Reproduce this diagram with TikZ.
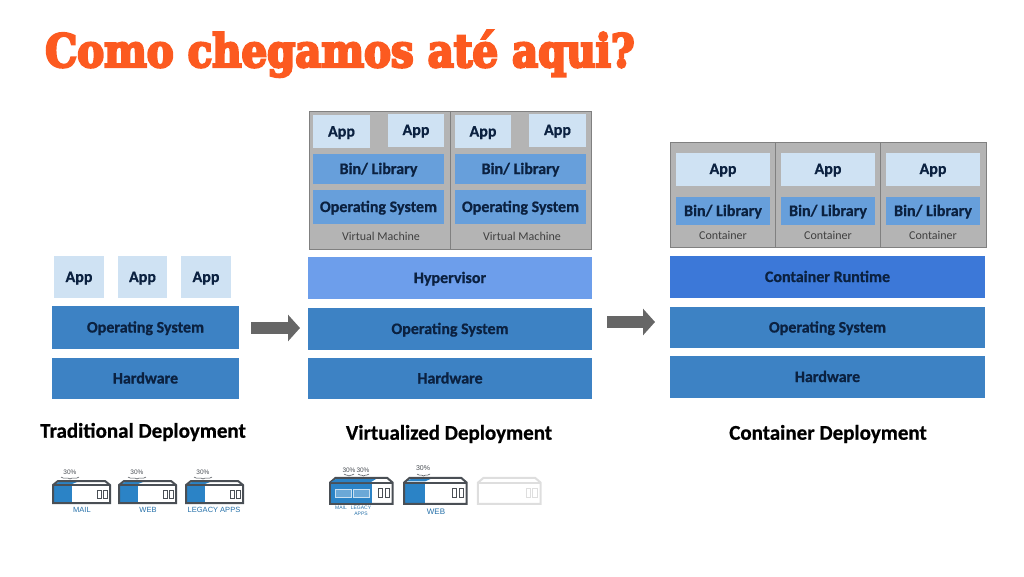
\documentclass[tikz,border=0pt]{standalone}
\usepackage{fontspec}
\setmainfont[BoldFeatures={FakeBold=0.7}]{Carlito}
\newfontfamily\titlefont[BoldFeatures={FakeBold=5,FakeStretch=0.88}]{DejaVu Serif}
\newfontfamily\iconfont{Liberation Sans}
\usetikzlibrary{arrows.meta,positioning,decorations.pathreplacing}
\definecolor{osblue}{HTML}{3D82C4}
\definecolor{binblue}{HTML}{679FDB}
\definecolor{appblue}{HTML}{CFE2F3}
\definecolor{hypblue}{HTML}{6D9EEB}
\definecolor{runblue}{HTML}{3C78D8}
\definecolor{vmgray}{HTML}{B4B4B4}
\definecolor{inktext}{HTML}{0B2140}
\definecolor{titlered}{HTML}{FC5A20}
\definecolor{icongray}{HTML}{4A4F55}
\definecolor{iconblue}{HTML}{2B83C6}
\definecolor{ghostgray}{HTML}{DEDEDE}
\tikzset{
pics/server/.style n args={2}{code={
\fill[#2] (1,-2) rectangle (19,14);
\fill[#2] (6,-6) -- (24,-6) -- (19,-4) -- (1,-4) -- cycle;
\draw[line width=2pt,#1] (0,-3) -- (5,-7) -- (52,-7) -- (57,-3) -- (57,15) -- (0,15) -- cycle;
\draw[line width=2pt,#1] (0,-3) -- (57,-3);
\draw[line width=1pt,#1] (44,2) rectangle (48,10) (50,2) rectangle (54,10);
}}}
\begin{document}
\begin{tikzpicture}[x=1pt,y=-1pt,
layer/.style={minimum width=#1,minimum height=42pt,inner sep=0pt,text height=10pt,text depth=0pt,text=inktext,font=\bfseries\fontsize{16}{16}\selectfont},
osbox/.style={layer=#1,fill=osblue},
appbox/.style={layer=#1,fill=appblue,minimum height=33pt},
binbox/.style={layer=#1,fill=binblue,minimum height=30pt},
vmbox/.style={draw=black!50,fill=vmgray,line width=.6pt,minimum width=#1,inner sep=0pt},
tag/.style={text=black!75,font=\fontsize{12}{12}\selectfont,inner sep=0pt},
caption/.style={text=black,font=\bfseries\fontsize{21}{21}\selectfont,inner sep=0pt},
percent/.style={text=icongray,font=\iconfont\fontsize{6.5}{6.5}\selectfont,inner sep=0pt},
svcname/.style={text=iconblue!85!black,font=\iconfont\fontsize{7.5}{7.5}\selectfont,inner sep=0pt,align=center},
bracemark/.style={draw=icongray,line width=.5pt,decorate,decoration={brace,amplitude=2pt,mirror}},
bigarr/.style={-{Triangle[length=12pt,width=26pt]},line width=12pt,draw=black!60}]
\useasboundingbox (0,0) rectangle (1024,576);
% title
\node[anchor=base west,text=titlered,inner sep=0pt,font=\titlefont\bfseries\fontsize{45.8}{46}\selectfont] (title) at (45,67) {Como chegamos até aqui?};
% traditional
\node[appbox=50pt,minimum height=42pt] (app1) at (79,277) {App};
\node[appbox=49pt,minimum height=42pt] (app2) at (142.5,277) {App};
\node[appbox=50pt,minimum height=42pt] (app3) at (206,277) {App};
\node[osbox=187pt,minimum height=43pt] (os1) at (145.5,327.5) {Operating System};
\node[osbox=187pt,minimum height=41pt] (hw1) at (145.5,378.5) {Hardware};
\node[caption] (cap1) at (143,432) {Traditional Deployment};
% virtualized
\node[vmbox=141.5pt,minimum height=138pt] (vm1) at (380,180) {};
\node[vmbox=141.5pt,minimum height=138pt] (vm2) at (521,180) {};
\node[appbox=57pt] (va1) at (341.5,131.5) {App};
\node[appbox=56pt] (va2) at (416,130) {App};
\node[appbox=56pt] (va3) at (483,131.5) {App};
\node[appbox=57pt] (va4) at (557.5,130) {App};
\node[binbox=131pt] (vb1) at (378.5,169) {Bin/ Library};
\node[binbox=131pt] (vb2) at (520.5,169) {Bin/ Library};
\node[binbox=131pt,minimum height=34pt] (vo1) at (378.5,207) {Operating System};
\node[binbox=131pt,minimum height=34pt] (vo2) at (520.5,207) {Operating System};
\node[tag] (vt1) at (381,236) {Virtual Machine};
\node[tag] (vt2) at (522,236) {Virtual Machine};
\node[layer=284pt,fill=hypblue] (hyp) at (450,278) {Hypervisor};
\node[osbox=284pt] (os2) at (450,329) {Operating System};
\node[osbox=284pt,minimum height=41pt] (hw2) at (450,378.5) {Hardware};
\node[caption] (cap2) at (449,434) {Virtualized Deployment};
% container
\node[vmbox=105.5pt,minimum height=105pt] (ct1) at (722.7,194.5) {};
\node[vmbox=105.5pt,minimum height=105pt] (ct2) at (828.2,194.5) {};
\node[vmbox=105.5pt,minimum height=105pt] (ct3) at (933.5,194.5) {};
\foreach \cx/\cn in {723/1,828/2,933/3}{
\node[appbox=94pt] (ca\cn) at (\cx,169) {App};
\node[binbox=94pt,minimum height=28pt] (cb\cn) at (\cx,211) {Bin/ Library};
\node[tag] (ct\cn l) at (\cx,235.5) {Container};
}
\node[layer=315pt,fill=runblue] (run) at (827.5,277) {Container Runtime};
\node[osbox=315pt,minimum height=41pt] (os3) at (827.5,327.5) {Operating System};
\node[osbox=315pt] (hw3) at (827.5,377) {Hardware};
\node[caption] (cap3) at (828,434) {Container Deployment};
% arrows
\coordinate (a1s) at (251,328);
\coordinate (a1e) at (300,328);
\coordinate (a2s) at (607,322);
\coordinate (a2e) at (655,322);
\draw[bigarr] (a1s) -- (a1e);
\draw[bigarr] (a2s) -- (a2e);
% servers
\pic at (53,488) {server={icongray}{iconblue}};
\pic at (119,488) {server={icongray}{iconblue}};
\pic at (186,488) {server={icongray}{iconblue}};
\node[percent] (p1) at (70,472) {30\%};
\node[percent] (p2) at (137,472) {30\%};
\node[percent] (p3) at (203,472) {30\%};
\coordinate (b1a) at (61,477); \coordinate (b1b) at (79,477);
\coordinate (b2a) at (128,477); \coordinate (b2b) at (146,477);
\coordinate (b3a) at (194,477); \coordinate (b3b) at (212,477);
\draw[bracemark] (b1a) -- (b1b);
\draw[bracemark] (b2a) -- (b2b);
\draw[bracemark] (b3a) -- (b3b);
\node[svcname] (n1) at (82,510) {MAIL};
\node[svcname] (n2) at (148,510) {WEB};
\node[svcname] (n3) at (214,510) {LEGACY APPS};
\begin{scope}[xscale=1.1,yscale=1.18]
\pic[transform shape] at (300,412) {server={icongray}{iconblue}};
\pic[transform shape] at (367.3,412) {server={icongray}{iconblue}};
\pic[transform shape] at (434.5,412) {server={ghostgray}{white}};
\end{scope}
\fill[iconblue] (331,484) rectangle (372,503);
\fill[iconblue] (336,479) -- (376,479) -- (371,482) -- (331,482) -- cycle;
\draw[white!75!iconblue,line width=.6pt,fill=iconblue!70] (335,489) rectangle (351,497) (353,489) rectangle (369,497);
\node[percent] (p4) at (349,470) {30\%};
\node[percent] (p5) at (363,470) {30\%};
\node[percent,font=\iconfont\fontsize{7}{7}\selectfont] (p6) at (423,468) {30\%};
\coordinate (b4a) at (344,474); \coordinate (b4b) at (354,474);
\coordinate (b5a) at (358,474); \coordinate (b5b) at (369,474);
\coordinate (b6a) at (417,474); \coordinate (b6b) at (430,474);
\draw[bracemark] (b4a) -- (b4b);
\draw[bracemark] (b5a) -- (b5b);
\draw[bracemark] (b6a) -- (b6b);
\node[svcname,font=\iconfont\fontsize{5}{5}\selectfont] (n4) at (341,508) {MAIL};
\node[svcname,font=\iconfont\fontsize{5}{5.5}\selectfont] (n5) at (361,511) {LEGACY\\APPS};
\node[svcname,font=\iconfont\fontsize{8}{8}\selectfont] (n6) at (436,512) {WEB};
\end{tikzpicture}
\end{document}
